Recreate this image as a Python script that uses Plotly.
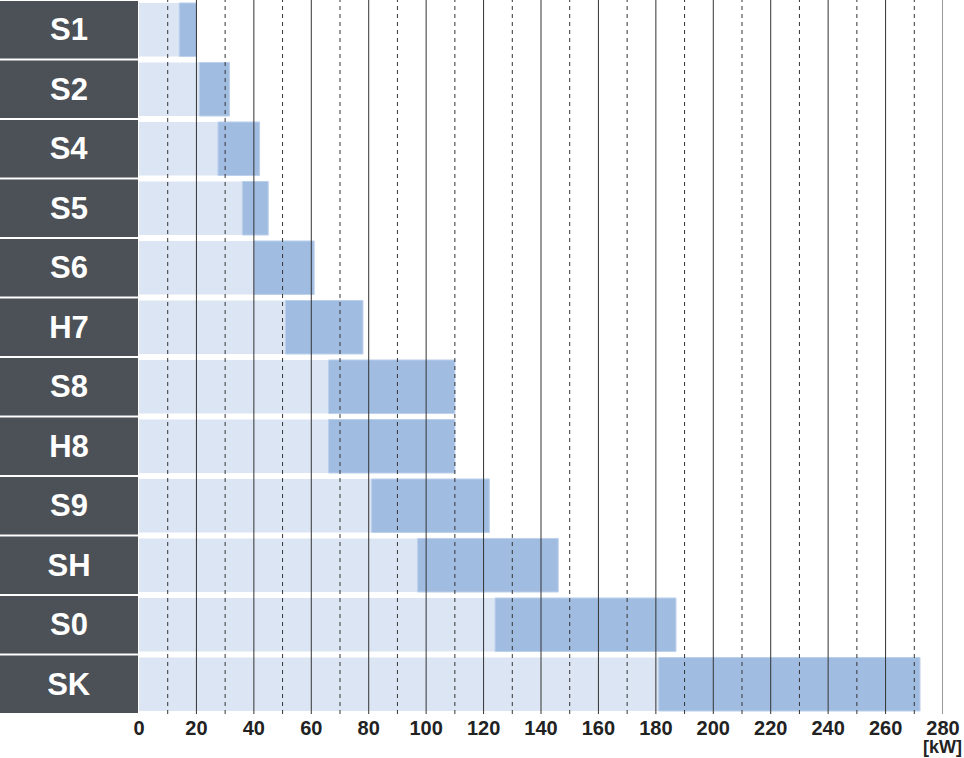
import plotly.graph_objects as go

# models, power band start / end in kW
models = ['S1', 'S2', 'S4', 'S5', 'S6', 'H7', 'S8', 'H8', 'S9', 'SH', 'S0', 'SK']
kw_min = [14, 21, 27.5, 36, 40, 51, 66, 66, 81, 97, 124, 181]
kw_max = [20, 31.5, 42, 45, 61, 78, 110, 110, 122, 146, 187, 272]

major_ticks = list(range(0, 281, 20))
minor_ticks = list(range(10, 280, 20))
tick_text = [str(t) for t in major_ticks]

DARK = '#4b5156'
LIGHT_BLUE = '#dce5f3'
MID_BLUE = '#a1bce1'

fig = go.Figure()

# label boxes on the left
fig.add_trace(go.Bar(
    y=models, x=[1] * len(models), orientation='h',
    xaxis='x2', yaxis='y',
    marker=dict(color=DARK, line=dict(width=0)),
    width=0.965,
    text=models, textposition='inside', insidetextanchor='middle',
    textfont=dict(family='Liberation Sans', size=31, color='white'),
    texttemplate='<b>%{text}</b>',
    constraintext='none',
    hoverinfo='skip', showlegend=False,
))

# light band from 0 to the lower limit
fig.add_trace(go.Bar(
    y=models, x=kw_min, orientation='h',
    marker=dict(color=LIGHT_BLUE, line=dict(width=0)),
    width=0.9, hoverinfo='skip', showlegend=False,
))

# power range
fig.add_trace(go.Bar(
    y=models, x=[b - a for a, b in zip(kw_min, kw_max)], base=kw_min,
    orientation='h',
    marker=dict(color=MID_BLUE, line=dict(color='#bcd0ec', width=1)),
    width=0.9, hoverinfo='skip', showlegend=False,
))

# grid lines drawn above the bars
def grid_xy(vals):
    xs, ys = [], []
    for v in vals:
        xs += [v, v, None]
        ys += [0, 1, None]
    return xs, ys

gx, gy = grid_xy(major_ticks[1:])
fig.add_trace(go.Scatter(
    x=gx, y=gy, yaxis='y2', mode='lines',
    line=dict(color='#333333', width=1),
    hoverinfo='skip', showlegend=False,
))
dx, dy = grid_xy(minor_ticks)
fig.add_trace(go.Scatter(
    x=dx, y=dy, yaxis='y2', mode='lines',
    line=dict(color='#333333', width=1, dash='4px,4px'),
    hoverinfo='skip', showlegend=False,
))

fig.update_layout(
    width=964, height=758,
    margin=dict(l=0, r=21, t=0, b=44),
    plot_bgcolor='white', paper_bgcolor='white',
    barmode='overlay',
    font=dict(family='Liberation Sans', color='#222222'),
    xaxis=dict(
        domain=[139 / 943, 1], range=[0, 280],
        tickvals=major_ticks, ticktext=tick_text,
        tickfont=dict(size=20, family='Liberation Sans', weight='bold', color='#222222'),
        showgrid=False, zeroline=False, showline=False, ticks='',
        fixedrange=True, automargin=False,
    ),
    xaxis2=dict(
        domain=[0, 138 / 943], range=[0, 1],
        visible=False, fixedrange=True, automargin=False,
    ),
    yaxis=dict(
        categoryorder='array', categoryarray=models,
        autorange='reversed',
        showticklabels=False, showgrid=False, zeroline=False,
        fixedrange=True, automargin=False,
    ),
    yaxis2=dict(
        overlaying='y', range=[0, 1], visible=False, fixedrange=True,
        automargin=False,
    ),
    annotations=[dict(
        text='<b>[kW]</b>', xref='paper', yref='paper',
        x=1.0, y=0, xanchor='right', yanchor='top', yshift=-21, xshift=21,
        showarrow=False, font=dict(size=18, family='Liberation Sans', color='#222222'),
    )],
)

pin_js = (
    "document.body.style.margin='0px';"
    "document.body.style.overflow='hidden';"
    "var g=document.getElementsByClassName('plotly-graph-div')[0];"
    "g.style.position='absolute';g.style.left='0px';g.style.top='0px';"
)
fig.write_html('out.html', config={'displayModeBar': False}, post_script=pin_js)
